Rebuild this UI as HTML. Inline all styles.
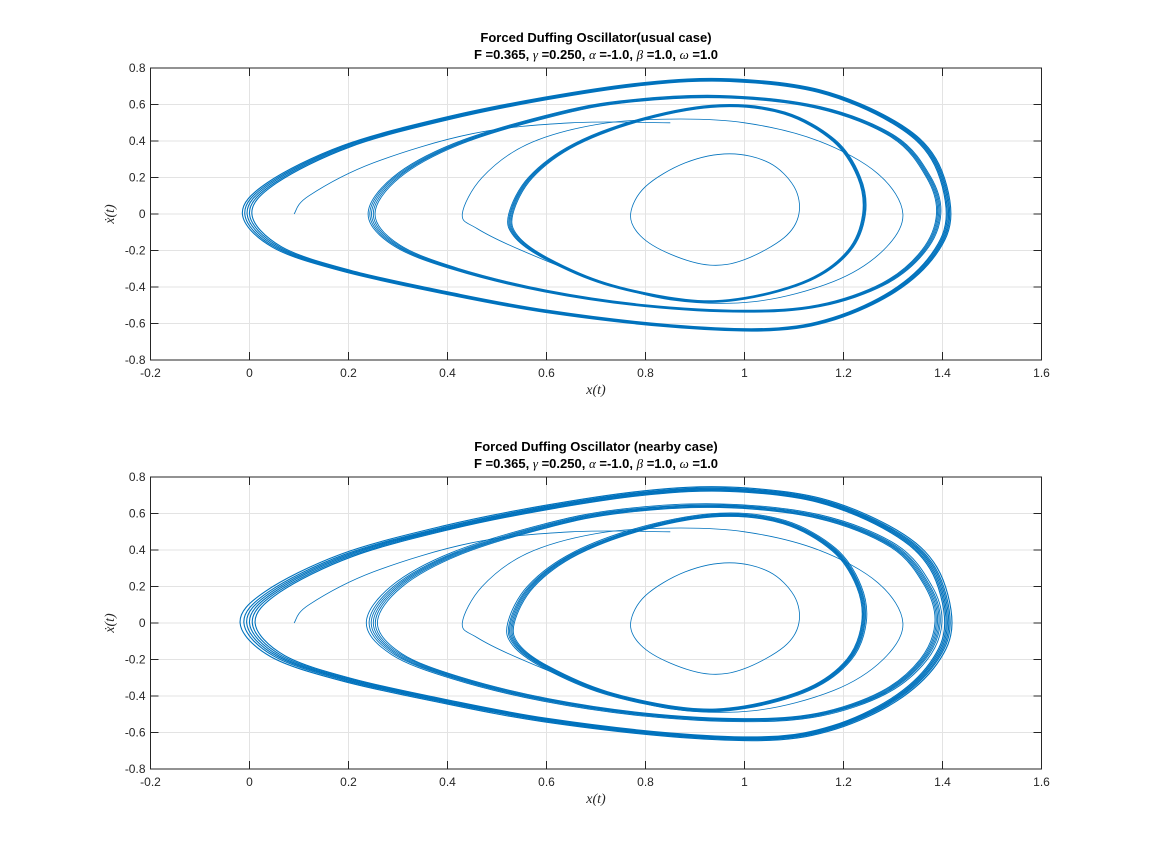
<!DOCTYPE html>
<html><head><meta charset="utf-8"><style>
body{margin:0;background:#fff;}
svg{display:block;font-family:"Liberation Sans",sans-serif;}
</style></head><body>
<svg id="fig" width="1152" height="864" xmlns="http://www.w3.org/2000/svg"></svg>
<script>
const xTicks=[-0.2,0,0.2,0.4,0.6,0.8,1,1.2,1.4,1.6];
const yTicks=[-0.8,-0.6,-0.4,-0.2,0,0.2,0.4,0.6,0.8];
const loopOuter=[[0,0],[0.05,0.17],[0.2,0.37],[0.4,0.52],[0.6,0.63],[0.8,0.71],[0.97,0.73],[1.15,0.67],[1.3,0.5],[1.38,0.3],[1.41,0],[1.38,-0.22],[1.3,-0.42],[1.18,-0.57],[1.05,-0.63],[0.85,-0.61],[0.6,-0.53],[0.4,-0.43],[0.2,-0.31],[0.06,-0.18]];
const loopB=[[0.25,0],[0.3,0.2],[0.42,0.38],[0.6,0.53],[0.75,0.61],[0.95,0.64],[1.15,0.58],[1.3,0.42],[1.37,0.2],[1.39,0],[1.36,-0.2],[1.28,-0.38],[1.15,-0.5],[1.0,-0.53],[0.8,-0.5],[0.6,-0.42],[0.42,-0.3],[0.3,-0.17]];
const loopC=[[0.53,0],[0.57,0.2],[0.66,0.38],[0.8,0.52],[0.95,0.59],[1.08,0.55],[1.18,0.4],[1.23,0.2],[1.24,0],[1.21,-0.2],[1.13,-0.36],[1.0,-0.46],[0.88,-0.47],[0.72,-0.38],[0.6,-0.24],[0.54,-0.12]];
const loopD=[[0.43,0],[0.47,0.2],[0.56,0.38],[0.7,0.49],[0.85,0.52],[1.0,0.5],[1.15,0.4],[1.27,0.22],[1.32,0],[1.28,-0.2],[1.18,-0.37],[1.02,-0.48],[0.85,-0.47],[0.7,-0.36],[0.55,-0.2],[0.46,-0.08]];
const loopSmall=[[0.77,0],[0.8,0.15],[0.88,0.28],[0.97,0.33],[1.05,0.28],[1.1,0.15],[1.11,0],[1.08,-0.13],[1.0,-0.25],[0.93,-0.28],[0.85,-0.22],[0.79,-0.12]];
const transient=[[0.09,0],[0.12,0.1],[0.25,0.28],[0.45,0.44],[0.65,0.5],[0.85,0.5]];
const bundleTop=[0,0.005,-0.005,0.01,0.015];
const bundleBottom=[0,0.006,-0.006,0.012,-0.012,0.02];

const NS="http://www.w3.org/2000/svg";
const fig=document.getElementById('fig');
function el(tag,attrs,parent){const e=document.createElementNS(NS,tag);for(const k in attrs)e.setAttribute(k,attrs[k]);(parent||fig).appendChild(e);return e;}

function makePath(pts,sx,sy,closed){
  const P=pts.map(p=>[sx(p[0]),sy(p[1])]);const n=P.length;let d='M'+P[0][0].toFixed(1)+','+P[0][1].toFixed(1);
  const get=i=>closed?P[(i+n)%n]:P[Math.max(0,Math.min(n-1,i))];
  const last=closed?n:n-1;
  for(let i=0;i<last;i++){const p0=get(i-1),p1=get(i),p2=get(i+1),p3=get(i+2);
    const c1=[p1[0]+(p2[0]-p0[0])/6,p1[1]+(p2[1]-p0[1])/6],c2=[p2[0]-(p3[0]-p1[0])/6,p2[1]-(p3[1]-p1[1])/6];
    d+='C'+c1[0].toFixed(1)+','+c1[1].toFixed(1)+' '+c2[0].toFixed(1)+','+c2[1].toFixed(1)+' '+p2[0].toFixed(1)+','+p2[1].toFixed(1);}
  return d+(closed?'Z':'');
}

function panel(top,title,name,bundle){
  const L=150.5,R=1041.5,T=top,B=top+292;
  const sx=v=>L+(v-(-0.2))/1.8*(R-L);
  const sy=v=>B-(v-(-0.8))/1.6*(B-T);
  const g=el('g',{});
  
  
  el('rect',{x:L,y:T,width:R-L,height:B-T,fill:'#fff'},g);
  xTicks.forEach(t=>{const x=sx(t);
    const gl=el('line',{x1:x,x2:x,y1:T,y2:B,stroke:'#e3e3e3','stroke-width':1},g);
    
    el('line',{x1:x,x2:x,y1:B,y2:B-8,stroke:'#262626'},g);el('line',{x1:x,x2:x,y1:T,y2:T+8,stroke:'#262626'},g);
    const tx=el('text',{x:x,y:B+17,'text-anchor':'middle','font-size':12,fill:'#262626'},g);tx.textContent=String(t);
    });
  yTicks.forEach(t=>{const y=sy(t);
    const gl=el('line',{x1:L,x2:R,y1:y,y2:y,stroke:'#e3e3e3','stroke-width':1},g);
    
    el('line',{x1:L,x2:L+8,y1:y,y2:y,stroke:'#262626'},g);el('line',{x1:R,x2:R-8,y1:y,y2:y,stroke:'#262626'},g);
    const tx=el('text',{x:L-5,y:y+4,'text-anchor':'end','font-size':12,fill:'#262626'},g);tx.textContent=String(t);
    });
  const series=el('g',{fill:'none',stroke:'#0072BD'},g);
  
  
  [[loopOuter,1.1],[loopB,0.9],[loopC,0.9]].forEach(([lp,w])=>{
    bundle.forEach(o=>{
      const pts=lp.map(p=>[p[0]*(1+o)-o*0.95,p[1]*(1+o)]);
      const p=el('path',{d:makePath(pts,sx,sy,true),'stroke-width':w},series);
      });
  });
  [loopD,loopSmall].forEach(lp=>{const p=el('path',{d:makePath(lp,sx,sy,true),'stroke-width':0.8},series);
    });
  const tp=el('path',{d:makePath(transient,sx,sy,false),'stroke-width':0.8},series);
  
  el('rect',{x:L,y:T,width:R-L,height:B-T,fill:'none',stroke:'#262626','stroke-width':1},g);
  const t1=el('text',{x:(L+R)/2,y:T-26,'text-anchor':'middle','font-size':13,'font-weight':'bold',fill:'#000'},g);t1.textContent=title;
  
  const t2=el('text',{x:(L+R)/2,y:T-9,'text-anchor':'middle','font-size':13,'font-weight':'bold',fill:'#000'},g);
  t2.innerHTML='F =0.365, <tspan font-family="Liberation Serif" font-style="italic" font-weight="normal">γ</tspan> =0.250, <tspan font-family="Liberation Serif" font-style="italic" font-weight="normal">α</tspan> =-1.0, <tspan font-family="Liberation Serif" font-style="italic" font-weight="normal">β</tspan> =1.0, <tspan font-family="Liberation Serif" font-style="italic" font-weight="normal">ω</tspan> =1.0';
  
  const xl=el('text',{x:(L+R)/2,y:B+34,'text-anchor':'middle','font-size':14,'font-style':'italic','font-family':'Liberation Serif',fill:'#262626'},g);xl.textContent='x(t)';
  
  const yl=el('text',{x:0,y:0,'text-anchor':'middle','font-size':14,'font-style':'italic','font-family':'Liberation Serif',fill:'#262626',transform:`translate(114,${(T+B)/2}) rotate(-90)`},g);yl.textContent='ẋ(t)';
  
}
panel(68,'Forced Duffing Oscillator(usual case)','top-chart',bundleTop);
panel(477,'Forced Duffing Oscillator (nearby case)','bottom-chart',bundleBottom);
</script>
</body></html>
